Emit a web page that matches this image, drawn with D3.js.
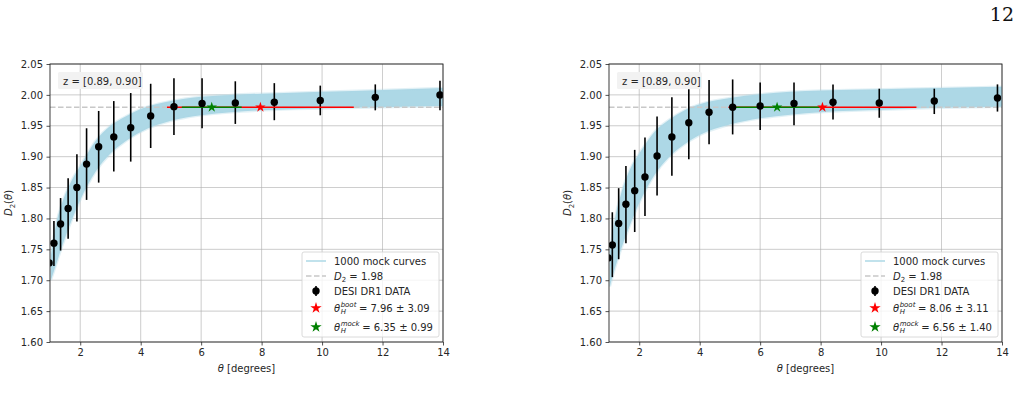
<!DOCTYPE html>
<html>
<head>
<meta charset="utf-8">
<script src="https://cdn.jsdelivr.net/npm/d3@7/dist/d3.min.js"></script>
<style>
  body { margin: 0; background: #fff; }
  svg text { font-family: "DejaVu Sans", sans-serif; fill: #262626; }
</style>
</head>
<body>
<div id="chart"></div>
<script>
// ---- data ----
var xTicks = [2, 4, 6, 8, 10, 12, 14];
var yTicks = [1.60, 1.65, 1.70, 1.75, 1.80, 1.85, 1.90, 1.95, 2.00, 2.05];
var d2Plateau = 1.98;
var zLabel = "z = [0.89, 0.90]";

// left panel
var thetaL = [0.97, 1.13, 1.35, 1.60, 1.89, 2.21, 2.61, 3.11, 3.67, 4.33, 5.10, 6.03, 7.13, 8.42, 9.94, 11.76, 13.90];
var d2L    = [1.728, 1.760, 1.791, 1.816, 1.850, 1.888, 1.916, 1.932, 1.947, 1.966, 1.981, 1.986, 1.987, 1.988, 1.991, 1.996, 2.000];
var d2LoL  = [1.700, 1.723, 1.748, 1.767, 1.795, 1.830, 1.858, 1.876, 1.892, 1.914, 1.935, 1.946, 1.953, 1.959, 1.967, 1.975, 1.975];
var d2HiL  = [1.756, 1.796, 1.833, 1.865, 1.904, 1.946, 1.974, 1.990, 2.003, 2.018, 2.027, 2.027, 2.022, 2.019, 2.015, 2.017, 2.023];
var bandXL  = [1.03, 1.2, 1.4, 1.7, 2.0, 2.5, 3.0, 3.5, 4.0, 5.0, 6.0, 7.0, 8.0, 10, 12, 14];
var bandLoL = [1.700, 1.725, 1.755, 1.795, 1.830, 1.875, 1.905, 1.925, 1.940, 1.958, 1.967, 1.972, 1.975, 1.978, 1.980, 1.982];
var bandHiL = [1.740, 1.790, 1.825, 1.860, 1.885, 1.925, 1.950, 1.965, 1.977, 1.990, 1.997, 2.000, 2.002, 2.005, 2.008, 2.011];
var bootL = [7.96, 3.09];
var mockL = [6.35, 0.99];

// right panel
var thetaR = [0.97, 1.11, 1.32, 1.56, 1.85, 2.19, 2.59, 3.08, 3.64, 4.31, 5.09, 6.00, 7.12, 8.41, 9.94, 11.76, 13.85];
var d2R    = [1.736, 1.757, 1.792, 1.823, 1.845, 1.867, 1.901, 1.932, 1.955, 1.972, 1.980, 1.982, 1.986, 1.988, 1.987, 1.990, 1.995];
var d2LoR  = [1.700, 1.705, 1.734, 1.760, 1.778, 1.804, 1.837, 1.869, 1.896, 1.920, 1.936, 1.943, 1.951, 1.960, 1.963, 1.969, 1.973];
var d2HiR  = [1.772, 1.810, 1.849, 1.885, 1.911, 1.931, 1.965, 1.996, 2.009, 2.024, 2.025, 2.020, 2.020, 2.017, 2.010, 2.010, 2.017];
var bandXR  = [1.03, 1.2, 1.4, 1.7, 2.0, 2.5, 3.0, 3.5, 4.0, 5.0, 6.0, 7.0, 8.0, 10, 12, 14];
var bandLoR = [1.690, 1.720, 1.750, 1.790, 1.825, 1.870, 1.900, 1.920, 1.935, 1.952, 1.962, 1.968, 1.972, 1.976, 1.979, 1.981];
var bandHiR = [1.745, 1.800, 1.840, 1.880, 1.905, 1.940, 1.960, 1.975, 1.985, 1.995, 2.001, 2.005, 2.007, 2.009, 2.011, 2.013];
var bootR = [8.06, 3.11];
var mockR = [6.56, 1.40];

var svgWidth = 1021;
var svgHeight = 409;

var svg = d3.select("#chart")
  .append("svg")
  .attr("width", svgWidth)
  .attr("height", svgHeight);

// page number
svg.append("text")
  .attr("x", 1014)
  .attr("y", 21)
  .attr("text-anchor", "end")
  .style("font-family", "'DejaVu Serif', 'Liberation Serif', serif")
  .style("font-size", "19px")
  .style("fill", "#111")
  .text("12");

var plotW = 393, plotH = 278, plotTop = 64;

function drawPanel(id, left, theta, d2, d2Lo, d2Hi, bandX, bandLo, bandHi, boot, mock) {
  var g = svg.append("g").attr("transform", `translate(${left}, ${plotTop})`);

  var x = d3.scaleLinear().domain([1, 14]).range([0, plotW]);
  var y = d3.scaleLinear().domain([1.60, 2.05]).range([plotH, 0]);

  g.append("clipPath").attr("id", id)
    .append("rect").attr("width", plotW).attr("height", plotH);

  // grid
  g.append("g").selectAll("line").data(xTicks).enter().append("line")
    .attr("x1", d => x(d)).attr("x2", d => x(d))
    .attr("y1", 0).attr("y2", plotH)
    .attr("stroke", "#b0b0b0").attr("stroke-width", 0.8).attr("opacity", 0.8);
  g.append("g").selectAll("line").data(yTicks).enter().append("line")
    .attr("y1", d => y(d)).attr("y2", d => y(d))
    .attr("x1", 0).attr("x2", plotW)
    .attr("stroke", "#b0b0b0").attr("stroke-width", 0.8).attr("opacity", 0.8);

  var plot = g.append("g").attr("clip-path", `url(#${id})`);

  // mock curves band
  var band = bandX.map((t, i) => ({ t: t, lo: bandLo[i], hi: bandHi[i] }));
  var area = d3.area()
    .x(d => x(d.t)).y0(d => y(d.lo)).y1(d => y(d.hi))
    .curve(d3.curveMonotoneX);
  plot.append("path").datum(band)
    .attr("d", area)
    .attr("fill", "#add8e6")
    .attr("stroke", "#add8e6").attr("stroke-width", 2.5).attr("stroke-opacity", 0.35);

  // plateau line
  plot.append("line")
    .attr("x1", 0).attr("x2", plotW)
    .attr("y1", y(d2Plateau)).attr("y2", y(d2Plateau))
    .attr("stroke", "#c8c8c8").attr("stroke-width", 1.5)
    .attr("stroke-dasharray", "5.5,2.5");

  // data with error bars
  var pts = theta.map((t, i) => ({ t: t, v: d2[i], lo: d2Lo[i], hi: d2Hi[i] }));
  plot.append("g").selectAll("line").data(pts).enter().append("line")
    .attr("x1", d => x(d.t)).attr("x2", d => x(d.t))
    .attr("y1", d => y(d.lo)).attr("y2", d => y(d.hi))
    .attr("stroke", "#000").attr("stroke-width", 1.6);

  // boot and mock ranges
  plot.append("line")
    .attr("x1", x(boot[0] - boot[1])).attr("x2", x(boot[0] + boot[1]))
    .attr("y1", y(d2Plateau)).attr("y2", y(d2Plateau))
    .attr("stroke", "red").attr("stroke-width", 1.4);
  plot.append("line")
    .attr("x1", x(mock[0] - mock[1])).attr("x2", x(mock[0] + mock[1]))
    .attr("y1", y(d2Plateau)).attr("y2", y(d2Plateau))
    .attr("stroke", "green").attr("stroke-width", 1.4);

  plot.append("g").selectAll("circle").data(pts).enter().append("circle")
    .attr("cx", d => x(d.t)).attr("cy", d => y(d.v))
    .attr("r", 3.7).attr("fill", "#000");

  var star = d3.symbol().type(d3.symbolStar).size(34);
  plot.append("path").attr("d", star)
    .attr("transform", `translate(${x(boot[0])}, ${y(d2Plateau)})`)
    .attr("fill", "red");
  plot.append("path").attr("d", star)
    .attr("transform", `translate(${x(mock[0])}, ${y(d2Plateau)})`)
    .attr("fill", "green");

  // axes
  var xAxis = g.append("g").attr("transform", `translate(0, ${plotH})`)
    .call(d3.axisBottom(x).tickValues(xTicks).tickSize(3.5).tickPadding(3.5).tickFormat(d3.format("d")));
  var yAxis = g.append("g")
    .call(d3.axisLeft(y).tickValues(yTicks).tickSize(3.5).tickPadding(3.5).tickFormat(d3.format(".2f")));
  [xAxis, yAxis].forEach(function(a) {
    a.selectAll("text").style("font-size", "10px").style("font-family", "DejaVu Sans").attr("fill", "#262626");
    a.selectAll("line").attr("stroke", "#262626").attr("stroke-width", 0.8);
    a.select(".domain").remove();
  });
  g.append("rect").attr("width", plotW).attr("height", plotH)
    .attr("fill", "none").attr("stroke", "#262626").attr("stroke-width", 0.9);

  // axis labels
  var xl = g.append("text")
    .attr("x", plotW / 2).attr("y", plotH + 30)
    .attr("text-anchor", "middle")
    .style("font-size", "10px");
  xl.append("tspan").style("font-family", "DejaVu Sans").style("font-style", "italic").text("θ");
  xl.append("tspan").text(" [degrees]");

  var yl = g.append("text")
    .attr("transform", `translate(${-38}, ${plotH / 2}) rotate(-90)`)
    .attr("text-anchor", "middle")
    .style("font-size", "10px");
  yl.append("tspan").style("font-style", "italic").text("D");
  yl.append("tspan").attr("dy", 2.5).style("font-size", "7px").text("2");
  yl.append("tspan").attr("dy", -2.5).text("(");
  yl.append("tspan").style("font-style", "italic").text("θ");
  yl.append("tspan").text(")");

  // redshift box
  g.append("rect")
    .attr("x", 8).attr("y", 8).attr("width", 85).attr("height", 17)
    .attr("fill", "#f2f2f2").attr("rx", 1.5);
  g.append("text").attr("x", 13).attr("y", 20.5)
    .style("font-size", "10px").text(zLabel);

  // legend
  var lg = g.append("g").attr("transform", `translate(${plotW - 141}, ${188})`);
  lg.append("rect").attr("width", 137).attr("height", 85).attr("rx", 2)
    .attr("fill", "#fff").attr("fill-opacity", 0.8)
    .attr("stroke", "#d0d0d0").attr("stroke-width", 0.8);
  var hx = 14, tx = 32;
  var rows = [9, 24, 39, 56, 75];

  lg.append("line").attr("x1", hx - 10).attr("x2", hx + 10)
    .attr("y1", rows[0]).attr("y2", rows[0])
    .attr("stroke", "#add8e6").attr("stroke-width", 1.5);
  lg.append("text").attr("x", tx).attr("y", rows[0] + 3.5).style("font-size", "10px").text("1000 mock curves");

  lg.append("line").attr("x1", hx - 10).attr("x2", hx + 10)
    .attr("y1", rows[1]).attr("y2", rows[1])
    .attr("stroke", "#c8c8c8").attr("stroke-width", 1.5).attr("stroke-dasharray", "5.5,2.5");
  var t1 = lg.append("text").attr("x", tx).attr("y", rows[1] + 3.5).style("font-size", "10px");
  t1.append("tspan").style("font-style", "italic").text("D");
  t1.append("tspan").attr("dy", 2.5).style("font-size", "7px").text("2");
  t1.append("tspan").attr("dy", -2.5).text(" = 1.98");

  lg.append("line").attr("x1", hx).attr("x2", hx)
    .attr("y1", rows[2] - 5).attr("y2", rows[2] + 5)
    .attr("stroke", "#000").attr("stroke-width", 1.6);
  lg.append("circle").attr("cx", hx).attr("cy", rows[2]).attr("r", 3.7).attr("fill", "#000");
  lg.append("text").attr("x", tx).attr("y", rows[2] + 3.5).style("font-size", "10px").text("DESI DR1 DATA");

  var starL = d3.symbol().type(d3.symbolStar).size(40);
  [[boot, "boot", "red", rows[3]], [mock, "mock", "green", rows[4]]].forEach(function(r) {
    lg.append("path").attr("d", starL)
      .attr("transform", `translate(${hx}, ${r[3]})`).attr("fill", r[2]);
    var base = r[3] + 3.5;
    var th = lg.append("text").attr("x", tx).attr("y", base)
      .style("font-size", "10px").style("font-style", "italic").text("θ");
    var w = th.node().getComputedTextLength();
    var sup = lg.append("text").attr("x", tx + w + 0.5).attr("y", base - 4.5)
      .style("font-size", "7px").style("font-style", "italic").text(r[1]);
    lg.append("text").attr("x", tx + w + 0.5).attr("y", base + 2.5)
      .style("font-size", "7px").style("font-style", "italic").text("H");
    var ws = sup.node().getComputedTextLength();
    lg.append("text").attr("x", tx + w + ws + 3).attr("y", base)
      .style("font-size", "10px")
      .text(`= ${r[0][0].toFixed(2)} ± ${r[0][1].toFixed(2)}`);
  });
}

drawPanel("clipL", 50, thetaL, d2L, d2LoL, d2HiL, bandXL, bandLoL, bandHiL, bootL, mockL);
drawPanel("clipR", 609, thetaR, d2R, d2LoR, d2HiR, bandXR, bandLoR, bandHiR, bootR, mockR);
</script>
</body>
</html>
